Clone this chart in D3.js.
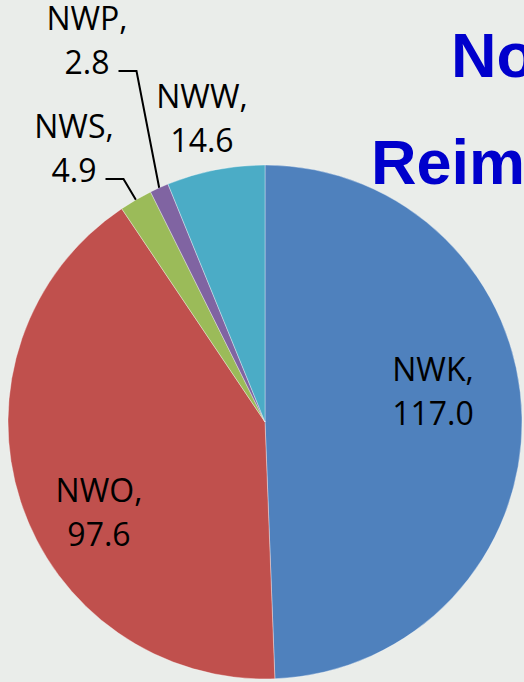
<!DOCTYPE html>
<html>
<head>
<meta charset="utf-8">
<script src="https://cdn.jsdelivr.net/npm/d3@7"></script>
<style>
  html, body { margin: 0; padding: 0; background: #eaedea; }
  svg { display: block; }
</style>
</head>
<body>
<svg id="chart"></svg>
<script>
// data
const categories = ['NWK', 'NWO', 'NWS', 'NWP', 'NWW'];
const values = [117.0, 97.6, 4.9, 2.8, 14.6];
const colors = ['#4f81bd', '#c0504d', '#9bbb59', '#8064a2', '#4bacc6'];
const titleLines = ['No', 'Reim'];

const W = 524, H = 682;
const cx = 265, cy = 422, radius = 257;

// label anchor: centre x, first baseline; leader = draw a callout line
const labelLayout = {
  NWK: { x: 433, y: 381, leader: false },
  NWO: { x: 99, y: 502, leader: false },
  NWS: { x: 74, y: 138, leader: true },
  NWP: { x: 87, y: 30, leader: true },
  NWW: { x: 202, y: 108, leader: false }
};
const lineGap = 44;

const data = categories.map((c, i) => ({ name: c, value: values[i], color: colors[i] }));

const svg = d3.select('#chart')
  .attr('width', W)
  .attr('height', H);

svg.append('rect')
  .attr('width', W)
  .attr('height', H)
  .attr('fill', '#eaedea');

// title (cut off by the right edge, as in the source slide)
svg.append('g')
  .selectAll('text')
  .data(titleLines)
  .join('text')
  .attr('x', (d, i) => i == 0 ? 451 : 371)
  .attr('y', (d, i) => i == 0 ? 77 : 184)
  .attr('font-family', 'Liberation Sans, Arial, sans-serif')
  .attr('font-weight', 'bold')
  .attr('font-size', 63)
  .attr('fill', '#0000cc')
  .text(d => d);

const pie = d3.pie()
  .sort(null)
  .value(d => d.value);

const arc = d3.arc()
  .innerRadius(0)
  .outerRadius(radius);

const arcs = pie(data);

const g = svg.append('g')
  .attr('transform', `translate(${cx},${cy})`);

g.selectAll('path')
  .data(arcs)
  .join('path')
  .attr('d', arc)
  .attr('fill', d => d.data.color)
  .attr('stroke', 'rgba(255,255,255,0.5)')
  .attr('stroke-width', 0.7);

const fmt = d3.format('.1f');

// labels
const labels = svg.append('g')
  .attr('font-family', 'Open Sans, sans-serif')
  .attr('font-size', 32)
  .attr('fill', '#000')
  .attr('text-anchor', 'middle');

arcs.forEach(a => {
  const pos = labelLayout[a.data.name];
  labels.append('text')
    .attr('x', pos.x)
    .attr('y', pos.y)
    .text(a.data.name + ',');
  const t2 = labels.append('text')
    .attr('x', pos.x)
    .attr('y', pos.y + lineGap)
    .text(fmt(a.data.value));

  if (pos.leader) {
    const w = t2.node().getComputedTextLength();
    const x0 = pos.x + w / 2 + 9;
    const y0 = pos.y + lineGap - 3;
    const mid = (a.startAngle + a.endAngle) / 2;
    const ex = cx + radius * Math.sin(mid);
    const ey = cy - radius * Math.cos(mid);
    svg.append('path')
      .attr('d', d3.line()([[x0, y0], [x0 + 18, y0], [ex, ey]]))
      .attr('fill', 'none')
      .attr('stroke', '#000')
      .attr('stroke-width', 2);
  }
});
</script>
</body>
</html>
